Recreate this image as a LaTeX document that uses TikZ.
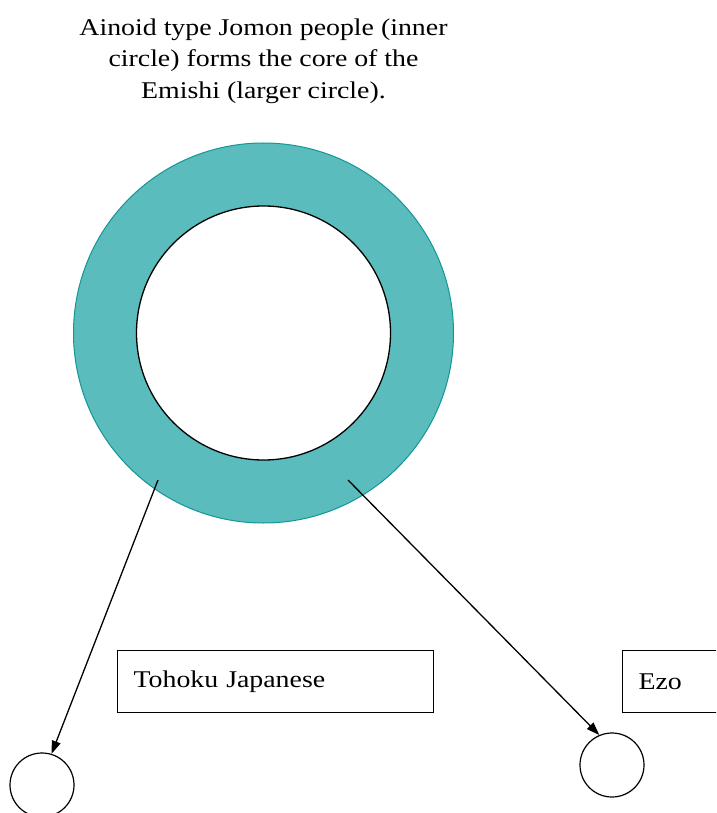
\documentclass[tikz,border=0pt]{standalone}
\usepackage{fontspec}
\setmainfont[FakeStretch=1.16]{Liberation Serif}
\usetikzlibrary{arrows.meta}
\definecolor{ringteal}{RGB}{90,188,188}
\definecolor{ringedge}{RGB}{20,150,150}
\tikzset{
  lbl/.style={font=\fontsize{24}{31.5}\selectfont},
  labelbox/.style={draw=black, line width=1.2pt, anchor=north west, minimum height=62pt,
    inner xsep=16pt, align=left, font=\fontsize{24}{31}\selectfont},
  smallc/.style={circle, draw=black, line width=1.2pt, minimum size=64pt, inner sep=0pt},
  arr/.style={draw=black, line width=1.3pt, -{Triangle[length=13pt,width=9pt]}}
}
\begin{document}
\begin{tikzpicture}[x=1pt,y=-1pt]
\clip (0,0) rectangle (716,813);
\fill[white] (0,0) rectangle (716,813);
\node[lbl, align=center] (title) at (263.5,61) {Ainoid type Jomon people (inner\\circle) forms the core of the\\Emishi (larger circle).};
\node[circle, fill=ringteal, draw=ringedge, line width=1pt, minimum size=380pt, inner sep=0pt] (outer) at (263.5,333) {};
\node[circle, fill=white, draw=black, line width=1.3pt, minimum size=254pt, inner sep=0pt] (inner) at (263.5,333) {};
\node[labelbox, text width=284pt] (tohoku) at (117,650) {Tohoku Japanese};
\node[labelbox, text width=120pt] (ezo) at (622,650) {Ezo};
\node[smallc] (c1) at (42,785) {};
\node[smallc] (c2) at (612,765) {};
\coordinate (s1) at (158,480);
\coordinate (s2) at (348,480);
\draw[arr] (s1) -- (c1.73);
\draw[arr] (s2) -- (c2.113);
\end{tikzpicture}
\end{document}
